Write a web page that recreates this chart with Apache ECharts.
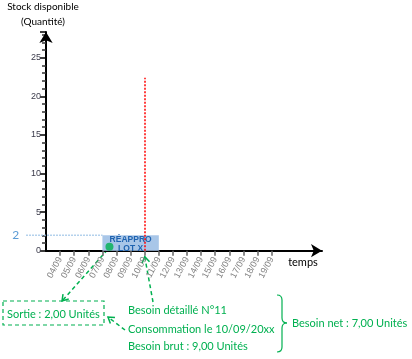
<!DOCTYPE html>
<html><head><meta charset="utf-8">
<script src="https://cdn.jsdelivr.net/npm/echarts@6/dist/echarts.min.js"></script>
<style>html,body{margin:0;padding:0;background:#fff}#c{width:412px;height:359px}</style>
</head><body><div id="c"></div>
<script>
// ---- data ----
const categories = ['04/09','05/09','06/09','07/09','08/09','09/09','10/09','11/09','12/09','13/09','14/09','15/09','16/09','17/09','18/09','19/09'];
const categoryDays = [4,5,6,7,8,9,10,11,12,13,14,15,16,17,18,19];
const yTickValues = [0,5,10,15,20,25];
const reappro = { start: 7, end: 11, qty: 2, label: 'RÉAPPRO\nLOT X' };
const besoinDay = 10;
const besoinLineTop = 22.4;
const sortiePoint = [7.5, 0.5];
const stockLevel = 2;
const stockLineFrom = 1.6;
const texts = {
  yTitle1: 'Stock disponible', yTitle2: '(Quantité)', xTitle: 'temps',
  sortie: 'Sortie : 2,00 Unités',
  besoin1: 'Besoin détaillé N°11', besoin2: 'Consommation le 10/09/20xx', besoin3: 'Besoin brut : 9,00 Unités',
  net: 'Besoin net : 7,00 Unités'
};

const GREEN = '#00B050';
const FONT = "'Liberation Sans', sans-serif";
const TFONT = "Lato, 'Liberation Sans', sans-serif";
const X_MIN = 3, X_MAX = 22.57, Y_MIN = 0, Y_MAX = 28.33;

const chart = echarts.init(document.getElementById('c'), null, {renderer:'canvas'});
const option = {
  animation: false,
  grid: { left: 46, right: 90, top: 32, bottom: 108.3 },
  xAxis: {
    type: 'value', min: X_MIN, max: X_MAX, interval: 1,
    splitLine: { show: false },
    axisLine: { onZero: false, lineStyle: { color: '#000', width: 2 }, symbol: ['none','arrow'], symbolSize: [10, 11] },
    axisTick: { show: true, customValues: categoryDays, length: 5, lineStyle: { color: '#666', width: 1.5 } },
    axisLabel: { customValues: categoryDays, rotate: 62, margin: 7, color: '#808080', fontSize: 9, fontFamily: FONT,
      formatter: v => categories[categoryDays.indexOf(Math.round(v))] || '' }
  },
  yAxis: {
    type: 'value', min: Y_MIN, max: Y_MAX, interval: 5,
    splitLine: { show: false },
    axisLine: { onZero: false, lineStyle: { color: '#000', width: 2 }, symbol: ['none','arrow'], symbolSize: [10, 11] },
    axisTick: { show: true, length: 6, lineStyle: { color: '#000', width: 1.5 } },
    minorTick: { show: true, splitNumber: 5, length: 4, lineStyle: { color: '#333', width: 1.5 } },
    axisLabel: { showMaxLabel: false, margin: 5, color: '#3a3a4a', fontSize: 9, fontFamily: FONT,
      formatter: v => yTickValues.indexOf(v) >= 0 ? String(v) : '' }
  },
  series: [
    {
      type: 'line', data: [], silent: true,
      markArea: {
        silent: true,
        itemStyle: { color: '#A8C6E8' },
        label: { show: true, position: 'inside', offset: [0, 1.5], formatter: reappro.label, color: '#1F63B0', fontWeight: 'bold',
          fontSize: 8.5, lineHeight: 9, fontFamily: FONT },
        data: [[{ xAxis: reappro.start, yAxis: 0 }, { xAxis: reappro.end, yAxis: reappro.qty }]]
      },
      markLine: {
        silent: true, symbol: ['none','none'], label: { show: false },
        lineStyle: { color: '#FF0000', type: [2, 1.5], width: 1.5 },
        data: [[{ coord: [besoinDay, 0] }, { coord: [besoinDay, besoinLineTop] }]]
      }
    },
    {
      type: 'custom', clip: false, silent: true, z: 1,
      data: [[stockLineFrom, stockLevel, reappro.start]],
      renderItem: function (params, api) {
        const p1 = api.coord([api.value(0), api.value(1)]);
        const p2 = api.coord([api.value(2), api.value(1)]);
        return { type: 'group', children: [
          { type: 'line', shape: { x1: p1[0], y1: p1[1], x2: p2[0], y2: p2[1] },
            style: { stroke: '#9DC3E6', lineWidth: 1.5, lineDash: [1.5, 1.5] } },
          { type: 'text', x: p1[0] - 7, y: p1[1], style: { text: String(stockLevel), fill: '#5B9BD5', font: '12px ' + TFONT, textAlign: 'right', textVerticalAlign: 'middle' } }
        ] };
      }
    },
    {
      type: 'scatter', data: [sortiePoint], symbolSize: 8, itemStyle: { color: GREEN }, silent: true, z: 5
    }
  ]
};
chart.setOption(option);

// ---- annotations anchored on the chart's own scale ----
const dot = chart.convertToPixel({gridIndex:0}, sortiePoint);
const tick = chart.convertToPixel({gridIndex:0}, [besoinDay, 0]);

function arrowHead(tip, from, size) {
  const dx = tip[0]-from[0], dy = tip[1]-from[1];
  const L = Math.hypot(dx, dy), ux = dx/L, uy = dy/L;
  const a = Math.PI/5.5;
  const p1 = [tip[0] - size*(ux*Math.cos(a) - uy*Math.sin(a)), tip[1] - size*(uy*Math.cos(a) + ux*Math.sin(a))];
  const p2 = [tip[0] - size*(ux*Math.cos(-a) - uy*Math.sin(-a)), tip[1] - size*(uy*Math.cos(-a) + ux*Math.sin(-a))];
  return { type: 'polyline', shape: { points: [p1, tip, p2] }, style: { stroke: GREEN, lineWidth: 1.5, fill: null } };
}
function dashed(a, b) {
  return { type: 'line', shape: { x1: a[0], y1: a[1], x2: b[0], y2: b[1] }, style: { stroke: GREEN, lineWidth: 1.5, lineDash: [4, 3] } };
}
function seg(x1, y1, x2, y2) {
  return { type: 'line', shape: { x1, y1, x2, y2 }, style: { stroke: GREEN, lineWidth: 1.2 } };
}
function curve(x1, y1, cx, cy, x2, y2) {
  return { type: 'bezierCurve', shape: { x1, y1, x2, y2, cpx1: cx, cpy1: cy }, style: { stroke: GREEN, lineWidth: 1.2, fill: null } };
}
const boxTop = [62, 301];
const a2from = [153, 302], a2to = [tick[0], tick[1] + 6];
const a3from = [125, 330], a3to = [108, 317];
const textStyle = (t, x, y, align) => ({ type: 'text', x, y, style: { text: t, fill: GREEN, font: '11px ' + TFONT, textAlign: align || 'left', textVerticalAlign: 'middle' } });

chart.setOption({
  graphic: [
    { type: 'text', x: 43, y: 7, style: { text: texts.yTitle1, fill: '#000', font: '10px ' + TFONT, textAlign: 'center', textVerticalAlign: 'middle' } },
    { type: 'text', x: 43, y: 22, style: { text: texts.yTitle2, fill: '#000', font: '10px ' + TFONT, textAlign: 'center', textVerticalAlign: 'middle' } },
    { type: 'text', x: 303, y: 262, style: { text: texts.xTitle, fill: '#000', font: '11px ' + TFONT, textAlign: 'center', textVerticalAlign: 'middle' } },
    dashed([dot[0]-2, dot[1]+3], boxTop), arrowHead(boxTop, dot, 7),
    dashed(a2from, a2to), arrowHead(a2to, a2from, 7),
    dashed(a3from, a3to), arrowHead(a3to, a3from, 7),
    { type: 'rect', shape: { x: 3, y: 301, width: 101, height: 24 }, style: { stroke: GREEN, lineWidth: 1.2, lineDash: [4, 3], fill: null } },
    textStyle(texts.sortie, 7, 314),
    textStyle(texts.besoin1, 128, 310),
    textStyle(texts.besoin2, 128, 329),
    textStyle(texts.besoin3, 128, 346),
    curve(277, 295, 282, 295, 282, 300),
    seg(282, 300, 282, 318),
    curve(282, 318, 282, 323, 287, 323),
    curve(287, 323, 282, 323, 282, 328),
    seg(282, 328, 282, 347),
    curve(282, 347, 282, 352, 277, 352),
    textStyle(texts.net, 292, 323)
  ]
});
</script></body></html>
